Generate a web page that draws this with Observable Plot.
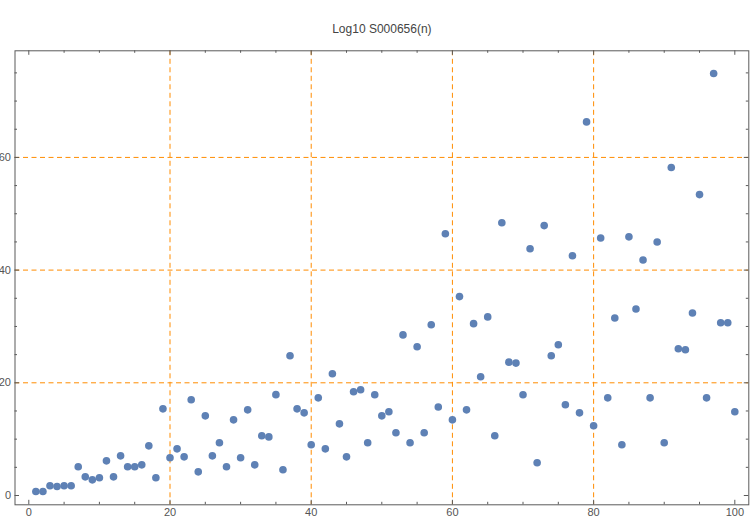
<!DOCTYPE html>
<html>
<head>
<meta charset="utf-8">
<script src="https://cdn.jsdelivr.net/npm/d3@7"></script>
<script src="https://cdn.jsdelivr.net/npm/@observablehq/plot@0.6"></script>
<style>
  html, body { margin: 0; padding: 0; background: #fff; }
  #chart svg { display: block; }
</style>
</head>
<body>
<div id="chart"></div>
<script>
const title = "Log10 S000656(n)";
const nValues = d3.range(1, 101);
const logValues = [
  0.72, 0.72, 1.72, 1.6, 1.72, 1.72, 5.09, 3.31, 2.78, 3.14,
  6.15, 3.31, 7.04, 5.09, 5.09, 5.44, 8.81, 3.14, 15.38, 6.69,
  8.28, 6.86, 16.98, 4.2, 14.14, 7.04, 9.35, 5.09, 13.43, 6.69,
  15.2, 5.44, 10.6, 10.4, 17.9, 4.56, 24.8, 15.38, 14.67, 9.0,
  17.33, 8.28, 21.6, 12.72, 6.86, 18.4, 18.76, 9.35, 17.88, 14.14,
  14.85, 11.13, 28.5, 9.35, 26.4, 11.13, 30.3, 15.7, 46.45, 13.43,
  35.3, 15.2, 30.5, 21.07, 31.7, 10.6, 48.4, 23.67, 23.5, 17.88,
  43.8, 5.8, 47.9, 24.8, 26.75, 16.1, 42.55, 14.67, 66.3, 12.37,
  45.7, 17.33, 31.5, 9.0, 45.9, 33.1, 41.8, 17.33, 45.0, 9.35,
  58.2, 26.04, 25.87, 32.4, 53.4, 17.33, 74.9, 30.66, 30.66, 14.85
];
const xMajor = [0, 20, 40, 60, 80, 100];
const xMinor = [5, 10, 15, 25, 30, 35, 45, 50, 55, 65, 70, 75, 85, 90, 95];
const yMajor = [0, 20, 40, 60];
const yMinor = [5, 10, 15, 25, 30, 35, 45, 50, 55, 65, 70, 75];
const xGrid = [20, 40, 60, 80];
const yGrid = [20, 40, 60];

const data = nValues.map((n, i) => ({n, v: logValues[i]}));

const W = 750, H = 521;
const mt = 50.3, mb = 16.7, ml = 14.5, mr = 1.7;
const ph = H - mt - mb, pw = W - ml - mr;
const axisColor = "#5a5a5a";
const gridColor = "#ff8c00";
const dash = "5,3.5";

const plot = Plot.plot({
  width: W,
  height: H,
  marginTop: mt,
  marginBottom: mb,
  marginLeft: ml,
  marginRight: mr,
  style: {fontFamily: "'Liberation Sans', Arial, sans-serif", fontSize: "11px", color: "#555", background: "#fff"},
  x: {domain: [-1.955, 101.98], label: null},
  y: {domain: [-1.65, 78.92], label: null},
  marks: [
    Plot.ruleX(xGrid, {stroke: gridColor, strokeWidth: 1, strokeDasharray: dash}),
    Plot.ruleY(yGrid, {stroke: gridColor, strokeWidth: 1, strokeDasharray: dash}),
    Plot.frame({stroke: axisColor, strokeWidth: 1}),
    // bottom ticks
    Plot.ruleX(xMajor, {stroke: axisColor, insetTop: ph - 4.5}),
    Plot.ruleX(xMinor, {stroke: axisColor, insetTop: ph - 2.5}),
    // top ticks
    Plot.ruleX(xMajor, {stroke: axisColor, insetBottom: ph - 4.5}),
    Plot.ruleX(xMinor, {stroke: axisColor, insetBottom: ph - 2.5}),
    // left ticks
    Plot.ruleY(yMajor, {stroke: axisColor, insetRight: pw - 4.5}),
    Plot.ruleY(yMinor, {stroke: axisColor, insetRight: pw - 2.5}),
    // right ticks
    Plot.ruleY(yMajor, {stroke: axisColor, insetLeft: pw - 4.5}),
    Plot.ruleY(yMinor, {stroke: axisColor, insetLeft: pw - 2.5}),
    Plot.axisX(xMajor, {anchor: "bottom", tickSize: 0, tickPadding: 3, fill: "#555", fontSize: 11, label: null}),
    Plot.axisY(yMajor, {anchor: "left", tickSize: 0, tickPadding: 4, fill: "#555", fontSize: 11, label: null}),
    Plot.dot(data, {x: "n", y: "v", r: 3.8, fill: "#5e81b5", stroke: "none"}),
    Plot.text([title], {frameAnchor: "top", dy: -26, fontSize: 12, fill: "#444"})
  ]
});
document.getElementById("chart").appendChild(plot);
</script>
</body>
</html>
